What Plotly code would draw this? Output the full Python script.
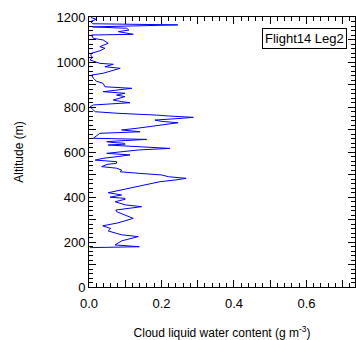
import plotly.graph_objects as go

altitude_m = [175, 179, 187, 205, 224, 232, 249, 260, 272, 285, 305, 320, 335, 342, 350, 357, 365, 379, 390, 394,
              399, 404, 409, 419, 431, 449, 458, 468, 476, 483, 490, 498, 505, 512, 520, 528, 535, 545, 550, 557,
              564, 572, 580, 587, 594, 602, 609, 616, 624, 631, 635, 639, 643, 646, 651, 656, 661, 670, 683, 690,
              698, 705, 712, 720, 725, 730, 736, 742, 748, 754, 760, 764, 772, 779, 790, 801, 809, 815, 819, 824,
              831, 846, 853, 861, 868, 883, 890, 905, 915, 928, 942, 950, 960, 972, 979, 990, 994, 1009, 1020, 1030,
              1039, 1050, 1061, 1068, 1083, 1090, 1098, 1105, 1120, 1123, 1130, 1135, 1142, 1150, 1156, 1165, 1170,
              1180, 1190, 1198]
lwc_gm3 = [0.003, 0.139, 0.072, 0.090, 0.136, 0.090, 0.053, 0.060, 0.038, 0.080, 0.122, 0.100, 0.076, 0.074, 0.120,
           0.145, 0.100, 0.072, 0.100, 0.099, 0.058, 0.080, 0.090, 0.053, 0.090, 0.141, 0.170, 0.196, 0.240, 0.268,
           0.220, 0.200, 0.140, 0.086, 0.090, 0.076, 0.035, 0.050, 0.076, 0.076, 0.017, 0.039, 0.080, 0.113, 0.049,
           0.090, 0.136, 0.223, 0.120, 0.053, 0.100, 0.095, 0.060, 0.049, 0.100, 0.159, 0.012, 0.020, 0.030, 0.141,
           0.090, 0.130, 0.160, 0.191, 0.220, 0.246, 0.200, 0.182, 0.240, 0.288, 0.220, 0.187, 0.080, 0.017, 0.010,
           0.003, 0.012, 0.080, 0.113, 0.090, 0.067, 0.099, 0.076, 0.099, 0.039, 0.118, 0.044, 0.039, 0.020, 0.012,
           0.007, 0.039, 0.060, 0.086, 0.044, 0.067, 0.030, 0.003, 0.010, 0.005, 0.007, 0.030, 0.044, 0.030, 0.053,
           0.045, 0.039, 0.012, 0.007, 0.122, 0.090, 0.081, 0.110, 0.104, 0.010, 0.245, 0.010, 0.005, 0.020, 0.005]

x_tickvals = [0.0, 0.1, 0.2, 0.3, 0.4, 0.5, 0.6, 0.7]
x_ticktext = ["0.0", "", "0.2", "", "0.4", "", "0.6", ""]
y_tickvals = [0, 100, 200, 300, 400, 500, 600, 700, 800, 900, 1000, 1100, 1200]
y_ticktext = ["0", "", "200", "", "400", "", "600", "", "800", "", "1000", "", "1200"]
label_text = "Flight14 Leg2"

FONT = "Liberation Sans, Arial, Helvetica, sans-serif"

fig = go.Figure()
fig.add_trace(go.Scatter(x=lwc_gm3, y=altitude_m, mode="lines",
                         line=dict(color="#0000ff", width=1), showlegend=False))

axis_common = dict(showline=True, linecolor="black", linewidth=1, mirror="allticks",
                   ticks="inside", ticklen=7, tickcolor="black", tickwidth=1,
                   showgrid=False, zeroline=False,
                   tickfont=dict(family=FONT, size=13, color="black"))

fig.update_xaxes(range=[0, 0.734], tickmode="array", tickvals=x_tickvals, ticktext=x_ticktext,
                 ticklabelstandoff=4,
                 minor=dict(dtick=0.02, ticks="inside", ticklen=4, tickcolor="black", showgrid=False),
                 title=dict(text="Cloud liquid water content (g m<sup>-3</sup>)",
                            font=dict(family=FONT, size=12, color="black"), standoff=20),
                 **axis_common)
fig.update_yaxes(range=[0, 1200], tickmode="array", tickvals=y_tickvals, ticktext=y_ticktext,
                 minor=dict(dtick=20, ticks="inside", ticklen=4, tickcolor="black", showgrid=False),
                 title=dict(text="Altitude (m)", font=dict(family=FONT, size=12, color="black"), standoff=30),
                 **axis_common)

fig.add_annotation(text=label_text, xref="paper", yref="paper", x=0.970, y=0.959,
                   xanchor="right", yanchor="top", showarrow=False,
                   font=dict(family=FONT, size=13, color="black"),
                   bordercolor="black", borderwidth=1, borderpad=2, bgcolor="white")

fig.update_layout(width=356, height=340, margin=dict(l=89, r=1, t=17, b=53),
                  paper_bgcolor="white", plot_bgcolor="white",
                  font=dict(family=FONT, color="black"))

fig.write_html("out.html")
